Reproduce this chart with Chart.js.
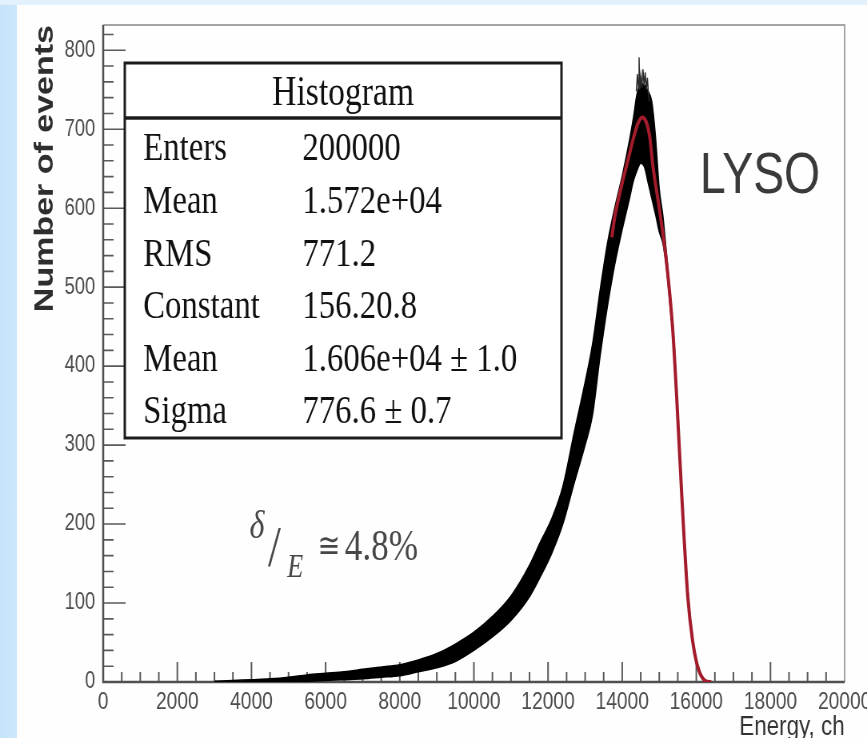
<!DOCTYPE html>
<html><head><meta charset="utf-8">
<script src="https://cdn.jsdelivr.net/npm/chart.js@4.4.1/dist/chart.umd.min.js"></script>
<style>
html,body{margin:0;padding:0;width:867px;height:738px;overflow:hidden;}
body{background:
 linear-gradient(to bottom, #e2f1fc 0px, #e2f1fc 5px, rgba(255,255,255,0) 5px),
 linear-gradient(to right, #c4e3fa 0px, #cde8fb 17px, #fefefe 17px, #fefefe 100%);}
#c{display:block;}
</style></head>
<body><canvas id="c" width="1084" height="738" style="width:867px;height:738px;"></canvas>
<script>
// ---- data ----
const energyCh = [3000,3500,4000,4500,5000,5500,6000,6500,7000,7500,8000,8500,9000,9500,10000,10500,11000,11500,
  11800,12100,12400,12700,13000,13200,13400,13600,13800,14000,14200,
  14300,14400,14500,14600,14700,14800,14900,15000,15100,15200,15300,15400,15500,15600,15700,15800,15900,16000,16100,16200,16300,16400];
const countsUpper = [1,2,3,4,6,9,11,13,16,19,22,28,36,48,63,83,109,148,
  178,207,248,315,380,428,495,555,601,641,687,
  714,745,758,756,748,735,690,625,590,540,488,432,342,250,166,100,56,29,13,4,1,0];
const countsLower = [0,0,0,0,0,1,2,3,4,6,8,13,18,26,40,57,78,108,
  134,163,200,251,300,338,411,475,529,573,613,
  634,648,657,652,632,612,592,570,555,522,472,418,328,236,154,90,48,23,9,2,0,0];
const spikeCh = [14380,14410,14440,14455,14470,14500,14530,14560,14590,14620,14650,14680,14710,14740];
const spikeCounts = [748,770,752,791,750,768,752,776,755,772,750,765,742,735];
const fitCh = [13720,13800,13950,14150,14300,14420,14540,14650,14750,14825,15010,15200,15364,15470,15610,15770,15900,16010,16100,16170,16250,16400];
const fitCounts = [563,589,622,660,688,707,715,709,688,655,597,530,446,361,234,108,52,24,11,5,1,0];
const xTickValues = [0,2000,4000,6000,8000,10000,12000,14000,16000,18000,20000];
const yTickValues = [0,100,200,300,400,500,600,700,800];
const statHeader = 'Histogram';
const statLabels = ['Enters','Mean','RMS','Constant','Mean','Sigma'];
const statValues = ['200000','1.572e+04','771.2','156.20.8','1.606e+04 \u00b1 1.0','776.6 \u00b1 0.7'];
const materialLabel = 'LYSO';
const resolutionParts = ['\u03b4','/','E','\u2245','4.8%'];

const pts = (xs, ys) => xs.map((v, i) => ({x: v, y: ys[i]}));

const rootStyle = {
  id: 'rootStyle',
  beforeDatasetsDraw(chart) {
    const {ctx, chartArea: a, scales: {x, y}} = chart;
    ctx.save();
    ctx.lineCap = 'butt';
    ctx.strokeStyle = '#5a5a5a';
    ctx.lineWidth = 1.6;
    ctx.beginPath();
    for (let v = 0; v <= 820; v += 20) {
      const p = y.getPixelForValue(v);
      const len = (v % 100 === 0) ? 28 : 13;
      ctx.moveTo(a.left, p); ctx.lineTo(a.left + len, p);
    }
    ctx.stroke();
    ctx.lineWidth = 2;
    ctx.beginPath();
    for (let v = 0; v <= 20000; v += 500) {
      const p = x.getPixelForValue(v);
      const len = (v % 2000 === 0) ? 20 : 10;
      ctx.moveTo(p, a.bottom); ctx.lineTo(p, a.bottom - len);
    }
    ctx.stroke();
    ctx.strokeStyle = '#a4a4a4'; ctx.lineWidth = 2;
    ctx.beginPath(); ctx.moveTo(a.left, a.top); ctx.lineTo(a.right, a.top); ctx.lineTo(a.right, a.bottom); ctx.stroke();
    ctx.strokeStyle = '#505050'; ctx.lineWidth = 2.5;
    ctx.beginPath(); ctx.moveTo(a.left, a.top); ctx.lineTo(a.left, a.bottom); ctx.lineTo(a.right, a.bottom); ctx.stroke();
    ctx.restore();
  },
  afterDatasetsDraw(chart) {
    const {ctx} = chart;
    ctx.save();
    // statistics box
    const bx = 156, by = 63, bw = 546, bh = 375;
    ctx.fillStyle = '#ffffff';
    ctx.fillRect(bx, by, bw, bh);
    ctx.strokeStyle = '#1c1c1c'; ctx.lineWidth = 3;
    ctx.strokeRect(bx, by, bw, bh);
    ctx.lineWidth = 3.5;
    ctx.beginPath(); ctx.moveTo(bx, 118); ctx.lineTo(bx + bw, 118); ctx.stroke();
    ctx.fillStyle = '#111111';
    ctx.textBaseline = 'alphabetic';
    ctx.font = '42px "Liberation Serif"';
    ctx.textAlign = 'center';
    ctx.fillText(statHeader, bx + bw / 2, 105);
    ctx.font = '41px "Liberation Serif"';
    ctx.textAlign = 'left';
    const rows = [160, 213, 266, 318, 371, 423];
    statLabels.forEach((t, i) => {
      ctx.fillText(t, 179, rows[i]);
      ctx.fillText(statValues[i], 378, rows[i]);
    });
    // material label
    ctx.fillStyle = '#3a3a3a';
    ctx.font = '58px "Liberation Sans"';
    ctx.fillText(materialLabel, 875, 193);
    // resolution
    ctx.fillStyle = '#474747';
    ctx.font = 'italic 40px "Liberation Serif"';
    ctx.fillText(resolutionParts[0], 312, 538);
    ctx.font = '58px "Liberation Serif"';
    ctx.fillText(resolutionParts[1], 335, 566);
    ctx.font = 'italic 33px "Liberation Serif"';
    ctx.fillText(resolutionParts[2], 359, 577);
    ctx.font = '34px "DejaVu Serif"';
    ctx.fillText(resolutionParts[3], 397, 557);
    ctx.font = '44px "Liberation Serif"';
    ctx.fillText(resolutionParts[4], 431, 560);
    ctx.restore();
  }
};

new Chart(document.getElementById('c'), {
  type: 'line',
  data: {
    datasets: [
      {label: 'Gaussian fit', data: pts(fitCh, fitCounts), borderColor: '#a31c2c', borderWidth: 4,
       pointRadius: 0, cubicInterpolationMode: 'monotone', fill: false},
      {label: 'Peak fluctuations', data: pts(spikeCh, spikeCounts), borderColor: '#2b2b2b', borderWidth: 1.5,
       pointRadius: 0, tension: 0, fill: false},
      {label: 'Histogram (upper)', data: pts(energyCh, countsUpper), borderColor: '#000', borderWidth: 1.5,
       backgroundColor: '#000', pointRadius: 0, cubicInterpolationMode: 'monotone', fill: '+1'},
      {label: 'Histogram (lower)', data: pts(energyCh, countsLower), borderColor: '#000', borderWidth: 1.5,
       pointRadius: 0, cubicInterpolationMode: 'monotone', fill: false}
    ]
  },
  options: {
    responsive: false,
    animation: false,
    devicePixelRatio: 1,
    layout: {padding: {left: 0, top: 25, right: 28, bottom: 0}},
    plugins: {legend: {display: false}, tooltip: {enabled: false}},
    scales: {
      x: {
        type: 'linear', min: 0, max: 20000,
        afterBuildTicks: s => { s.ticks = xTickValues.map(v => ({value: v})); },
        afterFit: s => { s.height = 56; s.paddingLeft = 0; s.paddingRight = 0; },
        grid: {display: false, drawTicks: false}, border: {display: false},
        ticks: {autoSkip: false, maxRotation: 0, padding: 6, color: '#4c4c4c',
                font: {family: 'Liberation Sans', size: 24}, callback: v => String(v)},
        title: {display: true, text: 'Energy, ch', align: 'end', color: '#333',
                font: {family: 'Liberation Sans', size: 28}, padding: {top: 0, bottom: -6}}
      },
      y: {
        type: 'linear', min: 0, max: 832,
        afterBuildTicks: s => { s.ticks = yTickValues.map(v => ({value: v})); },
        afterFit: s => { s.width = 129; s.paddingTop = 0; s.paddingBottom = 0; },
        grid: {display: false, drawTicks: false}, border: {display: false},
        ticks: {padding: 10, color: '#4c4c4c', font: {family: 'Liberation Sans', size: 23},
                callback: v => String(v)},
        title: {display: true, text: 'Number of events', align: 'end', color: '#2e2e2e',
                font: {family: 'Liberation Sans', size: 34, weight: 'bold'}, padding: {top: 36, bottom: 0}}
      }
    }
  },
  plugins: [rootStyle]
});
</script>
</body></html>
